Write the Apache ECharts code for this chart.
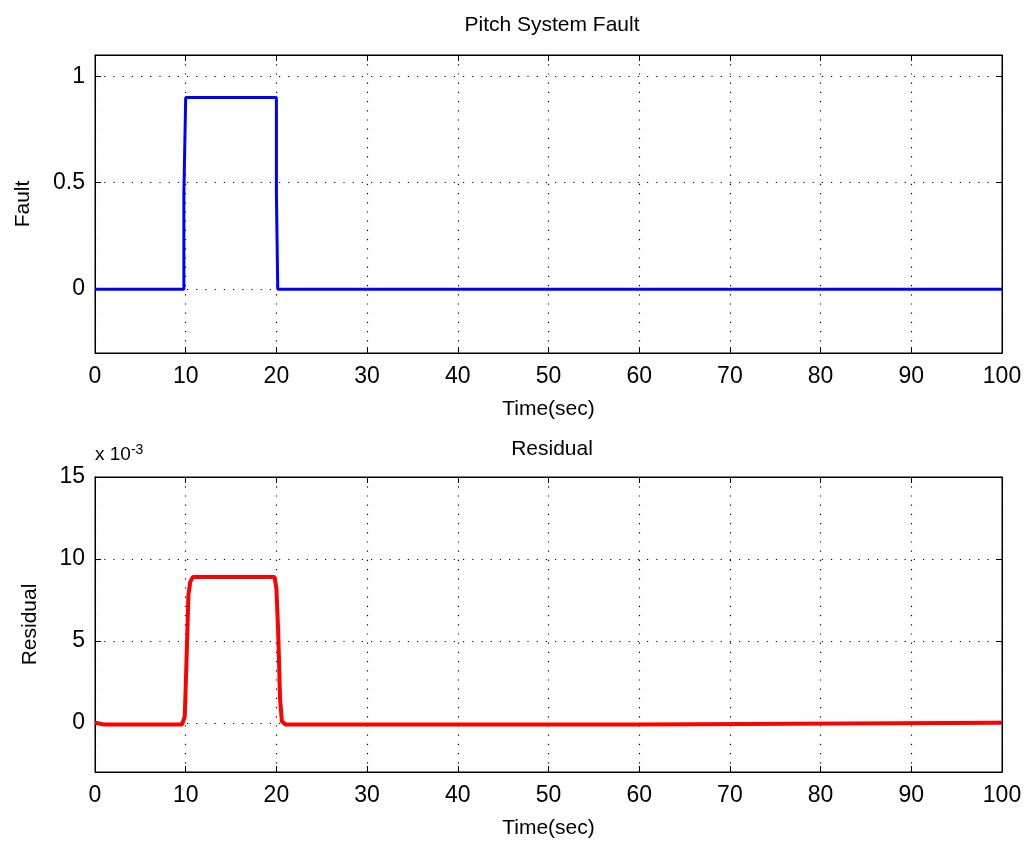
<!DOCTYPE html>
<html>
<head>
<meta charset="utf-8">
<title>Pitch System Fault</title>
<script src="https://cdn.jsdelivr.net/npm/echarts@6/dist/echarts.min.js"></script>
<style>
  html, body { margin: 0; padding: 0; background: #fff; }
  #main { width: 1025px; height: 844px; }
</style>
</head>
<body>
<div id="main"></div>
<script>
// fault signal (time in sec, value)
var faultT = [0, 9.8, 9.8, 10.0, 10.0, 20.0, 20.0, 20.15, 20.15, 100];
var faultV = [0, 0, 0.45, 0.45, 0.9, 0.9, 0.45, 0.45, 0, 0];

// residual signal (time in sec, value)
var residT = [0, 1, 5, 7, 9.6, 9.9, 10.1, 10.3, 10.5, 10.8, 19.8, 20.0, 20.2, 20.4, 20.6, 21, 25, 35, 45, 52, 59.9, 60, 100];
var residV = [0, -0.0001, -0.0001, -0.0001, -0.0001, 0.0004, 0.004, 0.0078, 0.0086, 0.0089, 0.0089, 0.0082, 0.0055, 0.0015, 0.0001, -0.0001, -0.0001, -0.0001, -0.0001, -0.0001, -0.0001, 0, 0];

var faultTicks = [0, 0.5, 1];
var residTicks = [0, 0.005, 0.01, 0.015];

function pairs(t, v) {
  var out = [];
  for (var i = 0; i < t.length; i++) out.push([t[i], v[i]]);
  return out;
}

var font = "Liberation Sans, Arial, sans-serif";
var dotted = { color: "#000", width: 1.2, type: [1.2, 8] };

function xAx(gi, label) {
  return {
    type: "value", gridIndex: gi, min: 0, max: 100, interval: 10,
    axisLine: { show: true, onZero: false, lineStyle: { color: "#000", width: 1 } },
    axisTick: { show: true, inside: true, length: 6, lineStyle: { color: "#000" } },
    axisLabel: { show: label, color: "#000", fontSize: 23, fontFamily: font, margin: 12 },
    splitLine: { show: label, lineStyle: dotted },
    name: label ? "Time(sec)" : "", nameLocation: "middle", nameGap: 46,
    nameTextStyle: { color: "#000", fontSize: 21, fontFamily: font },
    position: label ? "bottom" : "top"
  };
}

function yAx(gi, min, max, ticks, label, name, nameGap, fmt) {
  return {
    type: "value", gridIndex: gi, min: min, max: max,
    axisLine: { show: true, onZero: false, lineStyle: { color: "#000", width: 1 } },
    axisTick: { show: true, inside: true, length: 6, customValues: ticks, lineStyle: { color: "#000" } },
    axisLabel: { show: label, customValues: ticks, color: "#000", fontSize: 23, fontFamily: font, margin: 10, formatter: fmt },
    splitLine: { show: label, lineStyle: dotted },
    name: name, nameLocation: "middle", nameGap: nameGap,
    nameTextStyle: { color: "#000", fontSize: 21, fontFamily: font },
    position: label ? "left" : "right"
  };
}

var chart = echarts.init(document.getElementById("main"));
chart.setOption({
  backgroundColor: "#fff",
  animation: false,
  title: [
    { text: "Pitch System Fault", left: 547, top: 10, textAlign: "center",
      textStyle: { color: "#000", fontSize: 21, fontWeight: "normal", fontFamily: font } },
    { text: "Residual", left: 547, top: 434, textAlign: "center",
      textStyle: { color: "#000", fontSize: 21, fontWeight: "normal", fontFamily: font } }
  ],
  graphic: [{
    type: "text", left: 95, top: 443,
    style: {
      text: "x 10{s|-3}", fill: "#000", font: "19px " + font,
      rich: { s: { fontSize: 14, verticalAlign: "top", padding: [0, 0, 10, 0], fill: "#000" } }
    }
  }],
  grid: [
    { left: 95, top: 55, width: 907, height: 298, show: true, borderColor: "#000", borderWidth: 1 },
    { left: 95, top: 477, width: 907, height: 295, show: true, borderColor: "#000", borderWidth: 1 }
  ],
  xAxis: [xAx(0, true), xAx(0, false), xAx(1, true), xAx(1, false)],
  yAxis: [
    yAx(0, -0.3, 1.1, faultTicks, true, "Fault", 61),
    yAx(0, -0.3, 1.1, faultTicks, false, ""),
    yAx(1, -0.003, 0.015, residTicks, true, "Residual", 54, function (v) { return String(Math.round(v * 1000)); }),
    yAx(1, -0.003, 0.015, residTicks, false, "")
  ],
  series: [
    { type: "line", xAxisIndex: 0, yAxisIndex: 0, data: pairs(faultT, faultV),
      showSymbol: false, lineStyle: { color: "#0000ff", width: 3 } },
    { type: "line", xAxisIndex: 2, yAxisIndex: 2, data: pairs(residT, residV),
      showSymbol: false, lineStyle: { color: "#ff0000", width: 4 } }
  ]
});
</script>
</body>
</html>
